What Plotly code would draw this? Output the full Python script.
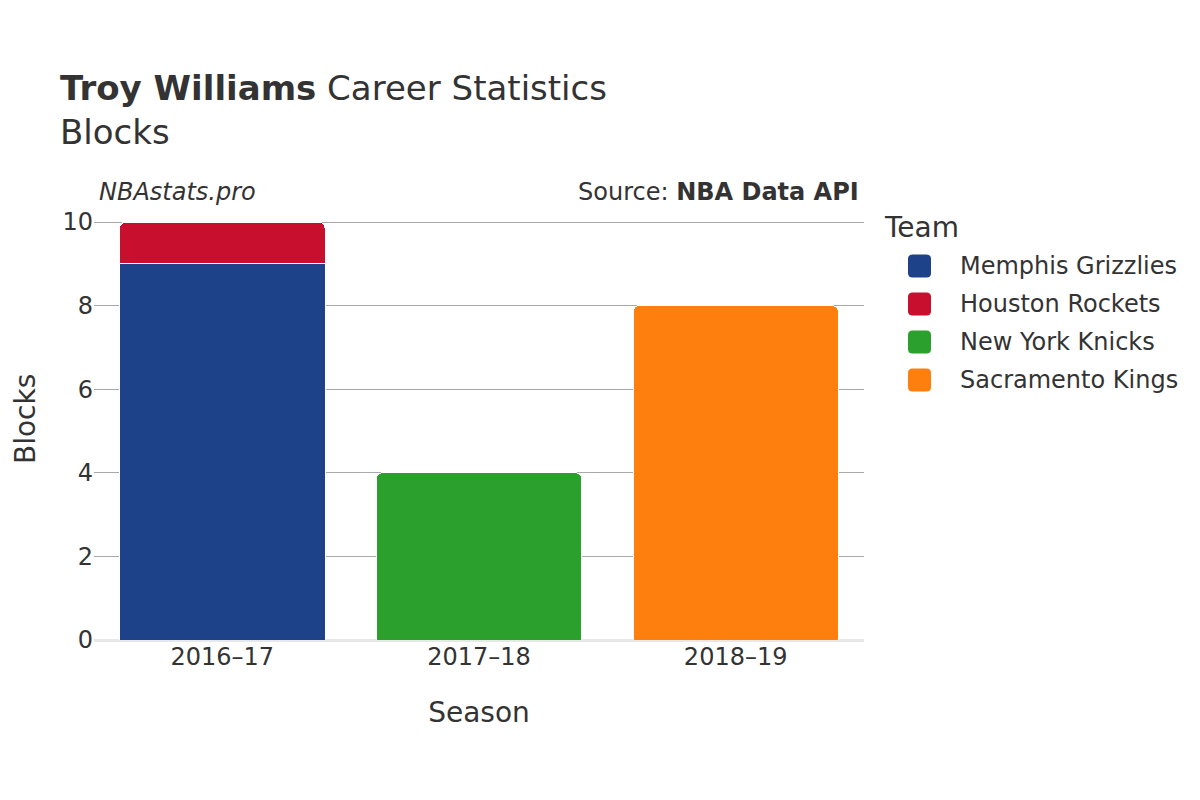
import plotly.graph_objects as go

seasons = ["2016–17", "2017–18", "2018–19"]
teams = ["Memphis Grizzlies", "Houston Rockets", "New York Knicks", "Sacramento Kings"]
team_seasons = [["2016–17"], ["2016–17"], ["2017–18"], ["2018–19"]]
team_blocks = [[9], [1], [4], [8]]
team_colors = ["#1d428a", "#c8102e", "#2ca02c", "#ff7f0e"]
y_ticks = [0, 2, 4, 6, 8, 10]

fig = go.Figure()
for name, xs, ys, col in zip(teams, team_seasons, team_blocks, team_colors):
    fig.add_trace(go.Bar(
        name=name, x=xs, y=ys, showlegend=False,
        marker=dict(color=col, line=dict(color="white", width=1)),
    ))

# plot area in screen pixels (page has an 8px body offset)
PL, PR, PT, PB = 94, 864, 220, 640


def px(sx):
    return (sx - PL) / (PR - PL)


def py(sy):
    return (PB - sy) / (PB - PT)


def rounded_rect(sx0, sy0, sx1, sy1, r):
    x0, x1 = px(sx0), px(sx1)
    y0, y1 = py(sy1), py(sy0)
    rx, ry = r / (PR - PL), r / (PB - PT)
    return (f"M{x0+rx},{y0} L{x1-rx},{y0} Q{x1},{y0} {x1},{y0+ry} "
            f"L{x1},{y1-ry} Q{x1},{y1} {x1-rx},{y1} L{x0+rx},{y1} "
            f"Q{x0},{y1} {x0},{y1-ry} L{x0},{y0+ry} Q{x0},{y0} {x0+rx},{y0} Z")


shapes = []
annotations = [
    dict(text="<i>NBAstats.pro</i>", xref="paper", yref="paper",
         x=px(97), y=py(192), xanchor="left", yanchor="middle",
         showarrow=False, font=dict(size=24, color="#333333")),
    dict(text="Source: <b>NBA Data API</b>", xref="paper", yref="paper",
         x=px(861), y=py(192), xanchor="right", yanchor="middle",
         showarrow=False, font=dict(size=24, color="#333333")),
    dict(text="Blocks", xref="paper", yref="paper", textangle=-90,
         x=px(25), y=py(419), xanchor="center", yanchor="middle",
         showarrow=False, font=dict(size=28, color="#333333")),
    dict(text="Team", xref="paper", yref="paper",
         x=px(882), y=py(227), xanchor="left", yanchor="middle",
         showarrow=False, font=dict(size=28, color="#333333")),
]
row_y = 266
for name, col in zip(teams, team_colors):
    shapes.append(dict(type="path", xref="paper", yref="paper",
                       path=rounded_rect(908, row_y - 11.5, 931, row_y + 11.5, 4.5),
                       fillcolor=col, line=dict(width=0), layer="above"))
    annotations.append(dict(text=name, xref="paper", yref="paper",
                            x=px(958), y=py(row_y), xanchor="left", yanchor="middle",
                            showarrow=False, font=dict(size=24, color="#333333")))
    row_y += 38

fig.update_layout(
    width=1200, height=800,
    barmode="stack",
    bargap=0.2,
    barcornerradius=6,
    showlegend=False,
    paper_bgcolor="white",
    plot_bgcolor="white",
    font=dict(family="DejaVu Sans", color="#333333", size=24),
    margin=dict(l=PL - 8, r=1208 - PR, t=PT - 8, b=808 - PB),
    title=dict(
        text="<b>Troy Williams</b> Career Statistics<br>Blocks",
        x=52 / 1200, xanchor="left",
        y=1 - 92 / 800, yanchor="top", yref="container",
        font=dict(size=34, color="#333333"),
    ),
    xaxis=dict(
        categoryorder="array", categoryarray=seasons,
        title=dict(text="Season", font=dict(size=28), standoff=32),
        tickfont=dict(size=24),
        showgrid=False,
    ),
    yaxis=dict(
        range=[0, 10.05],
        tickvals=y_ticks,
        automargin=False,
        tickfont=dict(size=24),
        showgrid=True, gridcolor="#a8a8a8", gridwidth=1,
        zeroline=True, zerolinecolor="#e8e8e8", zerolinewidth=3,
        ticks="", ticklen=6, tickcolor="white",
    ),
    shapes=shapes,
    annotations=annotations,
)

fig.write_html("out.html")
